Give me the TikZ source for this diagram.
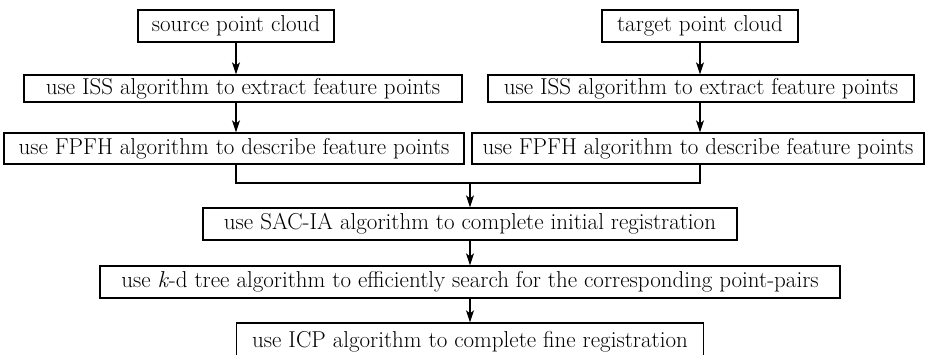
\documentclass[tikz,border=0pt]{standalone}
\usepackage{tikz}
\usetikzlibrary{arrows.meta}

\begin{document}
\begin{tikzpicture}[x=1pt, y=-1pt,
		box/.style={draw, line width=1.3pt, inner sep=0pt, font=\fontsize{23}{26}\selectfont},
		arr/.style={line width=1.3pt, -{Stealth[length=12pt, width=8pt, inset=3pt]}}]
				\useasboundingbox (0,0) rectangle (926,354);
				\node[box, minimum width=196, minimum height=32] (S) at (236,26) {source point cloud};
				\node[box, minimum width=196, minimum height=32] (T) at (700,26) {target point cloud};
				\node[box, minimum width=438, minimum height=27] (IL) at (243,88.5) {use ISS algorithm to extract feature points};
				\node[box, minimum width=426, minimum height=27] (IR) at (701,88.5) {use ISS algorithm to extract feature points};
				\node[box, minimum width=460, minimum height=31] (FL) at (234,148.5) {use FPFH algorithm to describe feature points};
				\node[box, minimum width=452, minimum height=31] (FR) at (698,148.5) {use FPFH algorithm to describe feature points};
				\node[box, minimum width=534, minimum height=32] (SAC) at (470,224) {use SAC-IA algorithm to complete initial registration};
				\node[box, minimum width=740, minimum height=32] (KD) at (470,282) {use \textit{k}-d tree algorithm to efficiently search for the corresponding point-pairs};
				\node[box, minimum width=467, minimum height=38] (ICP) at (470,342) {use ICP algorithm to complete fine registration};
				\coordinate (ML) at (236,183);
				\coordinate (MR) at (700,183);
				\coordinate (M) at (470,183);
				\draw[arr] (S) -- (S |- IL.north);
				\draw[arr] (S |- IL.south) -- (S |- FL.north);
				\draw[arr] (T) -- (T |- IR.north);
				\draw[arr] (T |- IR.south) -- (T |- FR.north);
				\draw[line width=1.3pt] (ML |- FL.south) -- (ML) -- (MR) -- (MR |- FR.south);
				\draw[arr] (M) -- (SAC);
				\draw[arr] (SAC) -- (KD);
				\draw[arr] (KD) -- (ICP);
			\end{tikzpicture}
\end{document}
